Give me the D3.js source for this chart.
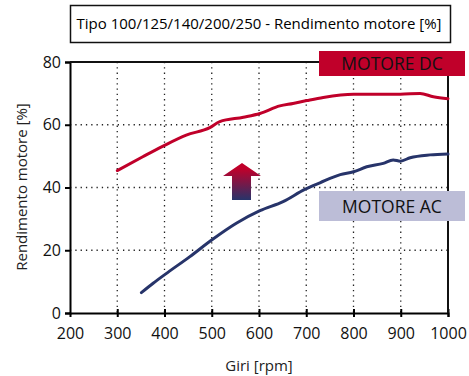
<!DOCTYPE html>
<html>
<head>
<meta charset="utf-8">
<script src="https://cdn.jsdelivr.net/npm/d3@7"></script>
<style>
  body { margin: 0; background: #fff; }
  svg { font-family: "Open Sans", "Noto Sans", sans-serif; }
</style>
</head>
<body>
<div id="chart"></div>
<script>
// chart values
const titleText = "Tipo 100/125/140/200/250 - Rendimento motore [%]";
const xTicks = [200, 300, 400, 500, 600, 700, 800, 900, 1000];
const yTicks = [0, 20, 40, 60, 80];
const xLabel = "Giri [rpm]";
const yLabel = "Rendimento motore [%]";

// motore DC efficiency [rpm, %]
const dcRpm = [300, 354, 397, 446, 496, 517, 567, 602, 644, 672, 701, 736, 800, 899, 941, 969, 1000];
const dcVal = [45.4, 49.8, 53.2, 56.7, 59.1, 61.0, 62.4, 63.6, 66.0, 66.8, 67.7, 68.7, 69.7, 69.7, 70.0, 68.9, 68.3];

// motore AC efficiency [rpm, %]
const acRpm = [351, 376, 402, 453, 502, 552, 602, 651, 697, 729, 772, 800, 828, 863, 884, 899, 920, 962, 1000];
const acVal = [6.5, 9.5, 12.4, 17.9, 23.5, 28.6, 32.6, 35.5, 39.4, 41.5, 44.1, 45.0, 46.6, 47.7, 48.8, 48.4, 49.5, 50.4, 50.7];

const W = 469, H = 376;
const red = "#c0002a", navy = "#27346a", lav = "#bcbdd7";

const svg = d3.select("#chart").append("svg")
  .attr("width", W).attr("height", H);

const x = d3.scaleLinear().domain([200, 1000]).range([70, 448]);
const y = d3.scaleLinear().domain([0, 80]).range([313, 62]);

// gradient for the arrow
const grad = svg.append("defs").append("linearGradient")
  .attr("id", "arrowGrad").attr("x1", 0).attr("y1", 0).attr("x2", 0).attr("y2", 1);
grad.append("stop").attr("offset", "0.15").attr("stop-color", red);
grad.append("stop").attr("offset", "1").attr("stop-color", navy);

// title box
svg.append("rect")
  .attr("x", 70.5).attr("y", 5.5).attr("width", 380).attr("height", 37)
  .attr("fill", "#fff").attr("stroke", "#111").attr("stroke-width", 1.5);
svg.append("text")
  .attr("x", 259).attr("y", 29)
  .attr("text-anchor", "middle").attr("font-size", "15px")
  .text(titleText);

// dotted grid
svg.append("g").selectAll("line")
  .data(xTicks.slice(1, -1))
  .join("line")
  .attr("x1", d => x(d)).attr("x2", d => x(d))
  .attr("y1", y(80)).attr("y2", y(0))
  .attr("stroke", "#222").attr("stroke-width", 1.3)
  .attr("stroke-dasharray", "1.3,4");
svg.append("g").selectAll("line")
  .data(yTicks.slice(1, -1))
  .join("line")
  .attr("x1", x(200)).attr("x2", x(1000))
  .attr("y1", d => y(d)).attr("y2", d => y(d))
  .attr("stroke", "#222").attr("stroke-width", 1.3)
  .attr("stroke-dasharray", "1.3,4");

// axes
const xAxis = svg.append("g")
  .attr("transform", `translate(0,${y(0)})`)
  .call(d3.axisBottom(x).tickValues(xTicks).tickFormat(d3.format("d"))
    .tickSize(4).tickPadding(11));
xAxis.select(".domain").attr("stroke-width", 2);
xAxis.selectAll(".tick line").attr("y1", -4).attr("stroke-width", 2);
xAxis.selectAll(".tick").filter(d => d === 200).select("line").remove();
xAxis.selectAll("text").attr("font-size", "16px").attr("fill", "#111")
  .attr("font-family", "Open Sans, sans-serif");

const yAxis = svg.append("g")
  .attr("transform", `translate(${x(200)},0)`)
  .call(d3.axisLeft(y).tickValues(yTicks).tickSize(5).tickPadding(4));
yAxis.select(".domain").attr("stroke-width", 2);
yAxis.selectAll(".tick line").attr("stroke-width", 2);
yAxis.selectAll("text").attr("font-size", "16px").attr("fill", "#111")
  .attr("font-family", "Open Sans, sans-serif");

// rest of the frame
svg.append("line")
  .attr("x1", x(200)).attr("x2", x(1000)).attr("y1", y(80)).attr("y2", y(80))
  .attr("stroke", "#111").attr("stroke-width", 2);
svg.append("line")
  .attr("x1", x(1000)).attr("x2", x(1000)).attr("y1", y(80)).attr("y2", y(0))
  .attr("stroke", "#111").attr("stroke-width", 2);

// axis titles
svg.append("text")
  .attr("x", 259).attr("y", 371)
  .attr("text-anchor", "middle").attr("font-size", "15px").attr("fill", "#222")
  .text(xLabel);
svg.append("text")
  .attr("transform", "translate(27,187) rotate(-90)")
  .attr("text-anchor", "middle").attr("font-size", "15px").attr("fill", "#222")
  .text(yLabel);

// curves
const line = d3.line()
  .x(d => x(d[0])).y(d => y(d[1]))
  .curve(d3.curveMonotoneX);

svg.append("path")
  .datum(dcRpm.map((r, i) => [r, dcVal[i]]))
  .attr("d", line)
  .attr("fill", "none").attr("stroke", red)
  .attr("stroke-width", 3).attr("stroke-linecap", "round");

svg.append("path")
  .datum(acRpm.map((r, i) => [r, acVal[i]]))
  .attr("d", line)
  .attr("fill", "none").attr("stroke", navy)
  .attr("stroke-width", 3).attr("stroke-linecap", "round");

// arrow
svg.append("path")
  .attr("d", "M242,163 L261,176 L251,176 L251,200 L232,200 L232,176 L223,176 Z")
  .attr("fill", "url(#arrowGrad)");

// legend labels
svg.append("rect")
  .attr("x", 319).attr("y", 51).attr("width", 146).attr("height", 25)
  .attr("fill", red);
svg.append("text")
  .attr("x", 392).attr("y", 70)
  .attr("text-anchor", "middle").attr("font-size", "17.5px").attr("fill", "#111")
  .text("MOTORE DC");

svg.append("rect")
  .attr("x", 319).attr("y", 191).attr("width", 146).attr("height", 30)
  .attr("fill", lav);
svg.append("text")
  .attr("x", 392).attr("y", 213)
  .attr("text-anchor", "middle").attr("font-size", "17.5px").attr("fill", "#111")
  .text("MOTORE AC");
</script>
</body>
</html>
